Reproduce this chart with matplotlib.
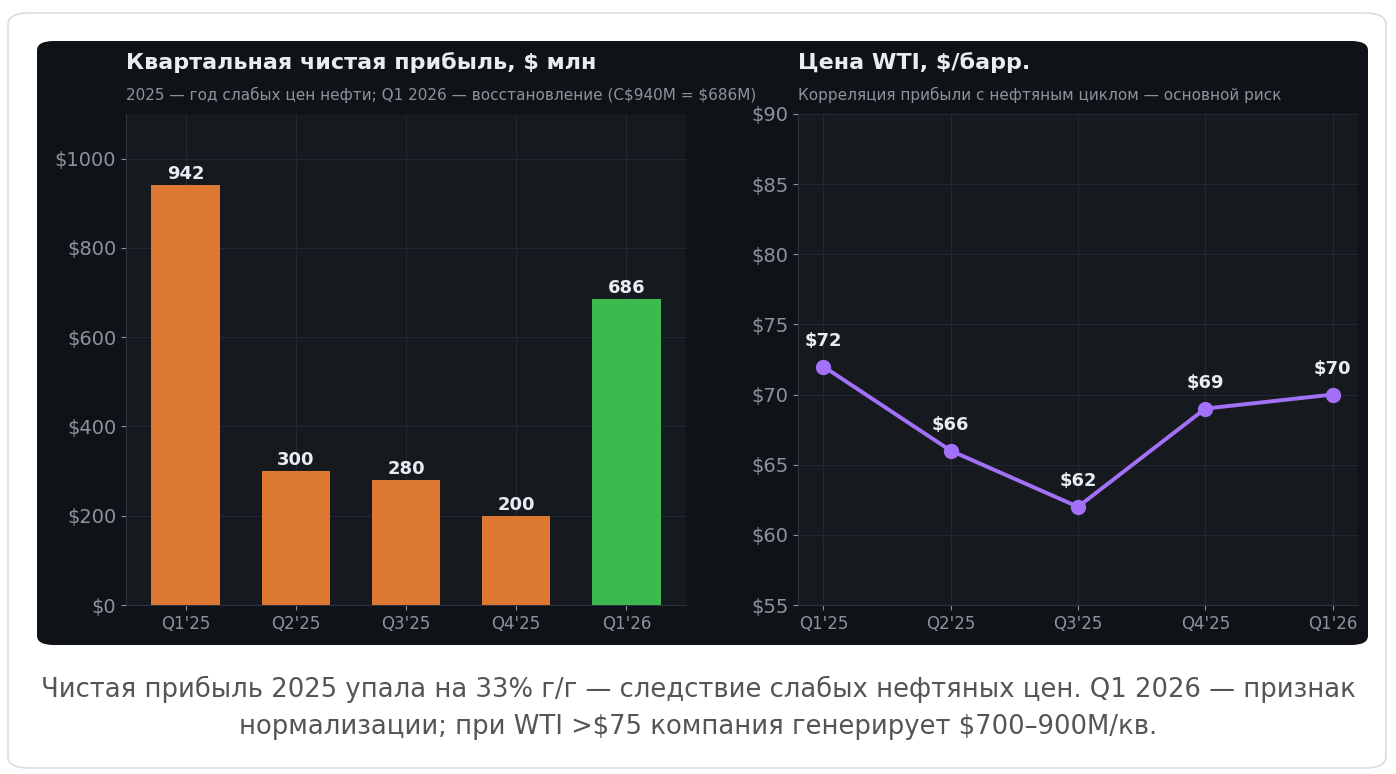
import matplotlib
matplotlib.use("Agg")
import matplotlib.pyplot as plt
from matplotlib.patches import FancyBboxPatch
import numpy as np

plt.rcParams["text.parse_math"] = False
plt.rcParams["font.family"] = ["DejaVu Sans"]

# data
quarters = ["Q1'25", "Q2'25", "Q3'25", "Q4'25", "Q1'26"]
net_income = [942, 300, 280, 200, 686]
wti_price = [72, 66, 62, 69, 70]

bar_colors = ["#dd7832", "#dd7832", "#dd7832", "#dd7832", "#3cba50"]
line_color = "#a371f7"
panel_bg = "#0f1317"
axes_bg = "#161a1f"
grid_col = "#222735"
tick_col = "#8b949e"
text_col = "#e6edf3"

W, H = 1396, 774
fig = plt.figure(figsize=(W / 100, H / 100), dpi=100, facecolor="white")


def fx(px):
    return px / W


def fy(py):
    return 1 - py / H


# outer card and dark panel
card = FancyBboxPatch((fx(8), fy(768)), fx(1386 - 8), (768 - 13) / H,
                      boxstyle="round,pad=0,rounding_size=0.015",
                      transform=fig.transFigure, facecolor="white",
                      edgecolor="#d9dde3", linewidth=1.2, zorder=0)
fig.patches.append(card)
panel = FancyBboxPatch((fx(37), fy(645)), fx(1368 - 37), (645 - 41) / H,
                       boxstyle="round,pad=0,rounding_size=0.012",
                       transform=fig.transFigure, facecolor=panel_bg,
                       edgecolor="none", zorder=1)
fig.patches.append(panel)

ax1 = fig.add_axes([fx(126), fy(605), fx(686 - 126), (605 - 114) / H])
ax2 = fig.add_axes([fx(798), fy(605), fx(1358 - 798), (605 - 114) / H])

for ax in (ax1, ax2):
    ax.set_zorder(5)
    ax.set_facecolor(axes_bg)
    ax.grid(True, color=grid_col, linewidth=0.8)
    ax.set_axisbelow(True)
    for s in ("top", "right"):
        ax.spines[s].set_visible(False)
    for s in ("left", "bottom"):
        ax.spines[s].set_color("#2d3340")
    ax.tick_params(colors="#8b949e", labelcolor=tick_col)
    ax.tick_params(axis="y", labelsize=14)
    ax.tick_params(axis="x", labelsize=12)

# left: bars
x = np.arange(len(quarters))
bars = ax1.bar(x, net_income, width=0.62, color=bar_colors, zorder=3)
ax1.set_ylim(0, 1100)
ax1.set_yticks([0, 200, 400, 600, 800, 1000])
ax1.set_yticklabels([f"${v}" for v in [0, 200, 400, 600, 800, 1000]])
ax1.set_xticks(x)
ax1.set_xticklabels(quarters)
for xi, v in zip(x, net_income):
    ax1.text(xi, v + 4, f"{v}", ha="center", va="bottom", color=text_col,
             fontsize=13, fontweight="bold", zorder=4)

# right: WTI line
ax2.plot(x, wti_price, color=line_color, linewidth=2.8, marker="o",
         markersize=10, zorder=3)
ax2.set_xlim(-0.2, 4.2)
ax2.set_ylim(55, 90)
yt = [55, 60, 65, 70, 75, 80, 85, 90]
ax2.set_yticks(yt)
ax2.set_yticklabels([f"${v}" for v in yt])
ax2.set_xticks(x)
ax2.set_xticklabels(quarters)
for xi, v in zip(x, wti_price):
    ax2.annotate(f"${v}", (xi, v), xytext=(0, 12), textcoords="offset points",
                 ha="center", va="bottom", color=text_col, fontsize=13,
                 fontweight="bold", zorder=4)

# titles
fig.text(fx(126), fy(63), "Квартальная чистая прибыль, $ млн", color=text_col,
         fontsize=16, fontweight="bold", va="center", ha="left")
fig.text(fx(126), fy(95), "2025 — год слабых цен нефти; Q1 2026 — восстановление (C$940M = $686M)",
         color=tick_col, fontsize=11, va="center", ha="left")
fig.text(fx(798), fy(63), "Цена WTI, $/барр.", color=text_col,
         fontsize=16, fontweight="bold", va="center", ha="left")
fig.text(fx(798), fy(95), "Корреляция прибыли с нефтяным циклом — основной риск",
         color=tick_col, fontsize=11, va="center", ha="left")

# caption
fig.text(0.5, fy(689), "Чистая прибыль 2025 упала на 33% г/г — следствие слабых нефтяных цен. Q1 2026 — признак",
         color="#555555", fontsize=18.6, ha="center", va="center")
fig.text(0.5, fy(727), "нормализации; при WTI >$75 компания генерирует $700–900M/кв.",
         color="#555555", fontsize=18.6, ha="center", va="center")

fig.savefig("out.png", dpi=100, facecolor="white")
